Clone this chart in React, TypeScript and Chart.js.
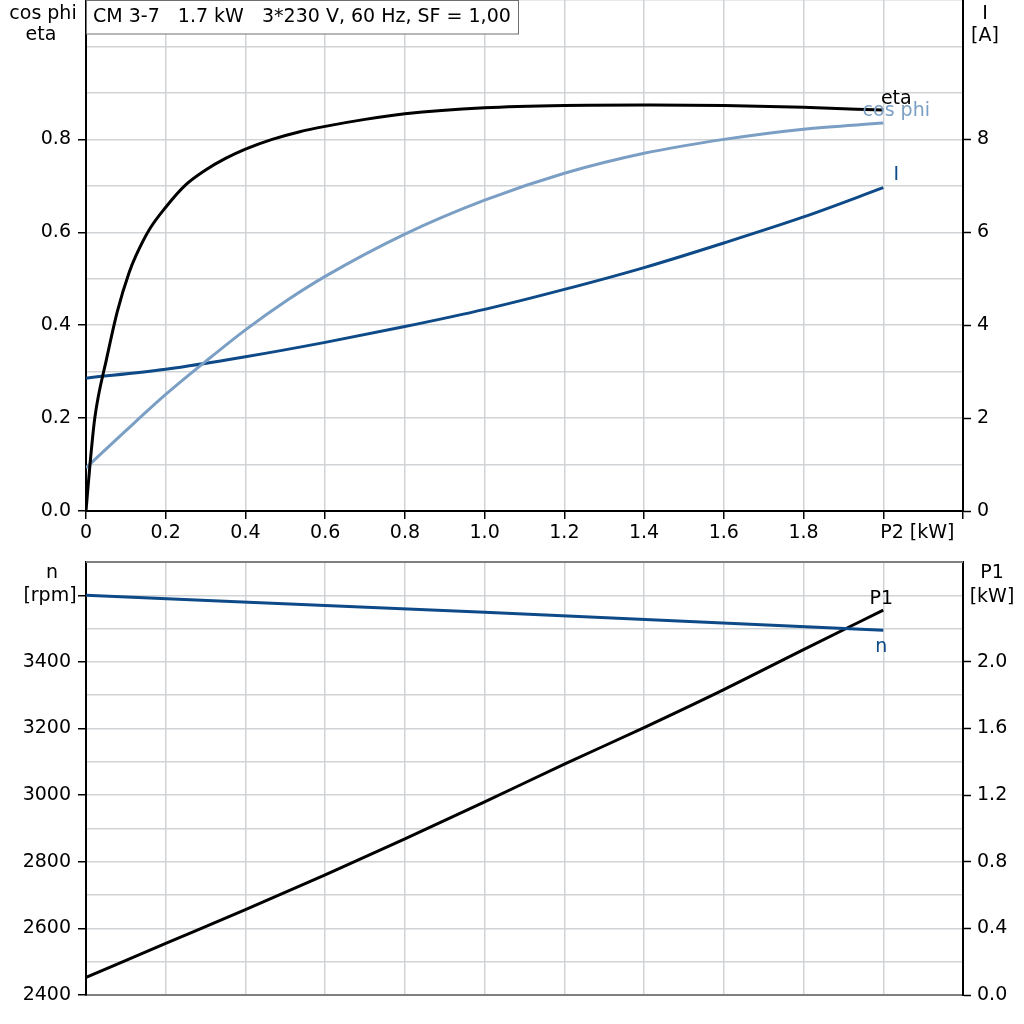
import React, { useEffect, useRef } from 'react';
import { Chart, registerables } from 'chart.js';

Chart.register(...registerables);

// ---------- data ----------
const TITLE = 'CM 3-7   1.7 kW   3*230 V, 60 Hz, SF = 1,00';

const P2_ETA = [0, 0.01, 0.022, 0.052, 0.079, 0.108, 0.125, 0.159, 0.2, 0.25, 0.3, 0.35, 0.4, 0.467, 0.534, 0.6, 0.7, 0.8, 1.0, 1.2, 1.4, 1.6, 1.8, 2.0];
const ETA = [0, 0.1, 0.2, 0.329, 0.431, 0.513, 0.549, 0.606, 0.654, 0.702, 0.734, 0.759, 0.779, 0.8, 0.816, 0.828, 0.843, 0.855, 0.868, 0.873, 0.874, 0.873, 0.869, 0.863];

const P2_COS = [0, 0.1, 0.2, 0.3, 0.4, 0.5, 0.6, 0.8, 1.0, 1.2, 1.4, 1.6, 1.8, 2.0];
const COS_PHI = [0.093, 0.173, 0.251, 0.322, 0.39, 0.451, 0.505, 0.596, 0.669, 0.727, 0.77, 0.8, 0.822, 0.835];

const P2_I = [0, 0.2, 0.4, 0.6, 0.8, 1.0, 1.2, 1.4, 1.6, 1.8, 2.0];
const CURRENT = [2.86, 3.05, 3.32, 3.63, 3.97, 4.34, 4.77, 5.24, 5.77, 6.33, 6.96];

const P2_N = [0, 1.0, 2.0];
const SPEED = [3600, 3549, 3495];

const P2_P1 = [0, 0.2, 0.4, 0.6, 0.8, 1.0, 1.2, 1.4, 1.6, 1.8, 2.0];
const P1 = [0.106, 0.31, 0.513, 0.722, 0.938, 1.16, 1.386, 1.606, 1.834, 2.074, 2.311];

const X_LABELS = ['0', '0.2', '0.4', '0.6', '0.8', '1.0', '1.2', '1.4', '1.6', '1.8'];
const X_UNIT = 'P2 [kW]';
const TOP_LEFT_TITLE = ['cos phi', 'eta'];
const TOP_RIGHT_TITLE = ['I', '[A]'];
const BOT_LEFT_TITLE = ['n', '[rpm]'];
const BOT_RIGHT_TITLE = ['P1', '[kW]'];

// ---------- style ----------
const FAMILY = '"DejaVu Sans", "Liberation Sans", Arial, sans-serif';
const FSIZE = 19;
const FONT = `${FSIZE}px ${FAMILY}`;
const GRID = '#d0d3d6';
const COL_ETA = '#000000';
const COL_COS = '#7b9fc4';
const COL_I = '#0d4a87';
const COL_N = '#0d4a87';
const COL_P1 = '#000000';

const pts = (xs: number[], ys: number[]) => xs.map((x, i) => ({ x, y: ys[i] }));

const lineDs = (label: string, data: { x: number; y: number }[], color: string, yAxisID: string) => ({
  label,
  data,
  borderColor: color,
  backgroundColor: color,
  borderWidth: 3,
  pointRadius: 0,
  cubicInterpolationMode: 'monotone' as const,
  fill: false,
  yAxisID,
});

const lastPoint = (chart: any, idx: number) => {
  const d = chart.getDatasetMeta(idx).data;
  const p = d[d.length - 1];
  return { x: p.x, y: p.y };
};

const text = (ctx: CanvasRenderingContext2D, s: string, x: number, y: number, color: string, align: CanvasTextAlign = 'center') => {
  ctx.fillStyle = color;
  ctx.textAlign = align;
  ctx.textBaseline = 'alphabetic';
  ctx.fillText(s, x, y);
};

const noPadY = (w: number) => (s: any) => {
  s.width = w;
  s.paddingTop = 0;
  s.paddingBottom = 0;
};
const noPadX = (h: number) => (s: any) => {
  s.height = h;
  s.paddingLeft = 0;
  s.paddingRight = 0;
};

const topPlugin = {
  id: 'topDecor',
  afterDraw(chart: any) {
    const ctx: CanvasRenderingContext2D = chart.ctx;
    const area = chart.chartArea;
    ctx.save();
    ctx.font = FONT;
    // title box
    ctx.fillStyle = '#ffffff';
    ctx.fillRect(area.left, 0, 432, 34);
    ctx.strokeStyle = '#6e6e6e';
    ctx.lineWidth = 1;
    ctx.strokeRect(area.left + 0.5, 0.5, 432, 33.5);
    text(ctx, TITLE, area.left + 7, 22, '#000', 'left');
    // axis titles
    text(ctx, TOP_LEFT_TITLE[0], 43, 18.5, '#000');
    text(ctx, TOP_LEFT_TITLE[1], 41, 40, '#000');
    text(ctx, TOP_RIGHT_TITLE[0], 985, 18.5, '#000');
    text(ctx, TOP_RIGHT_TITLE[1], 985, 40.5, '#000');
    // x unit label
    const xs = chart.scales.x;
    text(ctx, X_UNIT, xs.getPixelForValue(2.0) - 3, 537.5, '#000', 'left');
    // series labels
    const e = lastPoint(chart, 0);
    text(ctx, 'eta', e.x + 13, e.y - 6, COL_ETA);
    const c = lastPoint(chart, 1);
    text(ctx, 'cos phi', c.x + 13, c.y - 7, COL_COS);
    const i = lastPoint(chart, 2);
    text(ctx, 'I', i.x + 13, i.y - 8, COL_I);
    ctx.restore();
  },
};

const botPlugin = {
  id: 'botDecor',
  afterDraw(chart: any) {
    const ctx: CanvasRenderingContext2D = chart.ctx;
    const area = chart.chartArea;
    ctx.save();
    // top border
    ctx.strokeStyle = '#808080';
    ctx.lineWidth = 2;
    ctx.beginPath();
    ctx.moveTo(area.left, area.top);
    ctx.lineTo(area.right, area.top);
    ctx.stroke();
    ctx.font = FONT;
    const off = 545;
    text(ctx, BOT_LEFT_TITLE[0], 52, 578 - off, '#000');
    text(ctx, BOT_LEFT_TITLE[1], 50, 601 - off, '#000');
    text(ctx, BOT_RIGHT_TITLE[0], 992, 578 - off, '#000');
    text(ctx, BOT_RIGHT_TITLE[1], 992, 602 - off, '#000');
    const n = lastPoint(chart, 0);
    text(ctx, 'n', n.x - 2, n.y + 22, COL_N);
    const p = lastPoint(chart, 1);
    text(ctx, 'P1', p.x - 2, p.y - 6, COL_P1);
    ctx.restore();
  },
};

const tickFont = { family: FAMILY, size: FSIZE };
const hidden = 'rgba(0,0,0,0)';

export default function App() {
  const topRef = useRef<HTMLCanvasElement>(null);
  const botRef = useRef<HTMLCanvasElement>(null);

  useEffect(() => {
    document.body.style.margin = '0';
    const top = new Chart(topRef.current as HTMLCanvasElement, {
      type: 'line',
      data: {
        datasets: [
          lineDs('eta', pts(P2_ETA, ETA), COL_ETA, 'y'),
          lineDs('cos phi', pts(P2_COS, COS_PHI), COL_COS, 'y'),
          lineDs('I', pts(P2_I, CURRENT), COL_I, 'y2'),
        ] as any,
      },
      options: {
        responsive: false,
        animation: false,
        events: [],
        layout: { autoPadding: false, padding: 0 },
        plugins: { legend: { display: false }, tooltip: { enabled: false }, title: { display: false } },
        scales: {
          x: {
            type: 'linear',
            min: 0,
            max: 2.2,
            afterFit: noPadX(34),
            ticks: {
              stepSize: 0.2,
              autoSkip: false,
              maxRotation: 0,
              padding: 3,
              color: '#000',
              font: tickFont,
              callback: (v: any) => {
                const k = Math.round(Number(v) * 5);
                return k < X_LABELS.length ? X_LABELS[k] : '';
              },
            },
            grid: { color: GRID, lineWidth: 1.5, tickLength: 8, tickColor: '#000', tickWidth: 1.5 },
            border: { color: '#000', width: 2 },
          },
          y: {
            type: 'linear',
            position: 'left',
            min: 0,
            max: 1.1,
            afterFit: noPadY(86),
            ticks: {
              stepSize: 0.1,
              autoSkip: false,
              padding: 7,
              color: '#000',
              font: tickFont,
              callback: (v: any) => {
                const k = Math.round(Number(v) * 10);
                return k % 2 === 0 && k <= 8 ? (k / 10).toFixed(1) : '';
              },
            },
            grid: {
              color: GRID,
              lineWidth: 1.5,
              tickLength: 8,
              tickWidth: 1.5,
              tickColor: (c: any) => {
                const k = Math.round(Number(c.tick?.value) * 10);
                return k % 2 === 0 && k <= 8 ? '#000' : hidden;
              },
            },
            border: { color: '#000', width: 2 },
          },
          y2: {
            type: 'linear',
            position: 'right',
            min: 0,
            max: 11,
            afterFit: noPadY(61),
            ticks: {
              stepSize: 1,
              autoSkip: false,
              padding: 6,
              color: '#000',
              font: tickFont,
              callback: (v: any) => {
                const k = Math.round(Number(v));
                return k % 2 === 0 && k <= 8 ? String(k) : '';
              },
            },
            grid: {
              drawOnChartArea: false,
              tickLength: 8,
              tickWidth: 1.5,
              tickColor: (c: any) => {
                const k = Math.round(Number(c.tick?.value));
                return k % 2 === 0 && k <= 8 ? '#000' : hidden;
              },
            },
            border: { color: '#000', width: 2 },
          },
        },
      } as any,
      plugins: [topPlugin],
    });

    const bot = new Chart(botRef.current as HTMLCanvasElement, {
      type: 'line',
      data: {
        datasets: [
          lineDs('n', pts(P2_N, SPEED), COL_N, 'y'),
          lineDs('P1', pts(P2_P1, P1), COL_P1, 'y2'),
        ] as any,
      },
      options: {
        responsive: false,
        animation: false,
        events: [],
        layout: { autoPadding: false, padding: { top: 17, left: 0, right: 0, bottom: 0 } },
        plugins: { legend: { display: false }, tooltip: { enabled: false }, title: { display: false } },
        scales: {
          x: {
            type: 'linear',
            min: 0,
            max: 2.2,
            afterFit: noPadX(29),
            ticks: { stepSize: 0.2, autoSkip: false, display: false },
            grid: { color: GRID, lineWidth: 1.5, drawTicks: false },
            border: { color: '#808080', width: 2 },
          },
          y: {
            type: 'linear',
            position: 'left',
            min: 2400,
            max: 3700,
            afterFit: noPadY(86),
            ticks: {
              stepSize: 100,
              autoSkip: false,
              padding: 7,
              color: '#000',
              font: tickFont,
              callback: (v: any) => {
                const k = Math.round(Number(v));
                return k % 200 === 0 && k <= 3400 ? String(k) : '';
              },
            },
            grid: {
              color: GRID,
              lineWidth: 1.5,
              tickLength: 8,
              tickWidth: 1.5,
              tickColor: (c: any) => {
                const k = Math.round(Number(c.tick?.value));
                return k % 200 === 0 && k <= 3600 ? '#000' : hidden;
              },
            },
            border: { color: '#000', width: 2 },
          },
          y2: {
            type: 'linear',
            position: 'right',
            min: 0,
            max: 2.6,
            afterFit: noPadY(61),
            ticks: {
              stepSize: 0.2,
              autoSkip: false,
              padding: 6,
              color: '#000',
              font: tickFont,
              callback: (v: any) => {
                const k = Math.round(Number(v) * 10);
                return k % 4 === 0 && k <= 20 ? (k / 10).toFixed(1) : '';
              },
            },
            grid: {
              drawOnChartArea: false,
              tickLength: 8,
              tickWidth: 1.5,
              tickColor: (c: any) => {
                const k = Math.round(Number(c.tick?.value) * 10);
                return k % 4 === 0 && k <= 20 ? '#000' : hidden;
              },
            },
            border: { color: '#000', width: 2 },
          },
        },
      } as any,
      plugins: [botPlugin],
    });

    return () => {
      top.destroy();
      bot.destroy();
    };
  }, []);

  return (
    <div style={{ position: 'relative', width: 1024, height: 1024, background: '#fff', overflow: 'hidden' }}>
      <canvas ref={topRef} width={1024} height={545} style={{ position: 'absolute', left: 0, top: 0 }} />
      <canvas ref={botRef} width={1024} height={479} style={{ position: 'absolute', left: 0, top: 545 }} />
    </div>
  );
}
